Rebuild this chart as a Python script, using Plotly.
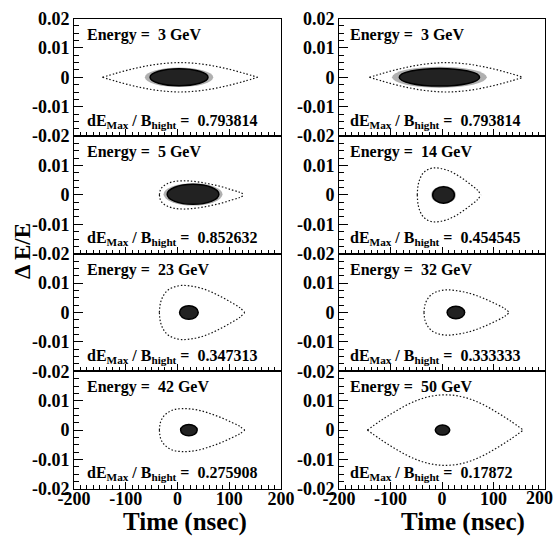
import plotly.graph_objects as go

W, H = 558, 536

# ---------------- data (panel order: L1..L4, R1..R4) ----------------
energies = [3, 5, 23, 42, 3, 14, 32, 50]
ratios = ["0.793814", "0.852632", "0.347313", "0.275908",
          "0.793814", "0.454545", "0.333333", "0.17872"]

# upper half of the separatrix (time in nsec, dE/E); lower half is its mirror
sep_t = [
    [-145, -120, -95, -70, -45, -20, 5, 30, 55, 80, 105, 130, 155],
    [-35, -33, -28, -20, -8, 8, 25, 45, 65, 85, 105, 120, 130],
    [-35, -33, -28, -20, -8, 8, 25, 45, 65, 85, 105, 120, 130],
    [-35, -33, -28, -20, -8, 8, 25, 45, 65, 85, 105, 120, 130],
    [-141, -116, -91, -66, -41, -16, 8, 33, 58, 83, 108, 133, 158],
    [-48, -46.5, -42.8, -36.7, -27.7, -15.6, -2.9, 12.1, 27.1, 42.1, 57.2, 68.4, 76],
    [-35, -33, -28, -20, -8, 8, 25, 45, 65, 85, 106, 121, 131],
    [-145, -120, -94, -69, -44, -19, 6, 32, 57, 82, 107, 133, 158],
]
sep_de = [
    [0, 0.0013, 0.0025, 0.0035, 0.0043, 0.0048, 0.005, 0.0048, 0.0043, 0.0035, 0.0025, 0.0013, 0],
    [0, 0.0017, 0.0029, 0.0038, 0.0045, 0.0048, 0.0047, 0.0043, 0.0036, 0.0028, 0.0017, 0.0009, 0],
    [0, 0.0032, 0.0055, 0.0074, 0.0086, 0.0092, 0.009, 0.0083, 0.007, 0.0053, 0.0033, 0.0017, 0],
    [0, 0.0026, 0.0044, 0.0058, 0.0069, 0.0073, 0.0072, 0.0066, 0.0055, 0.0042, 0.0026, 0.0013, 0],
    [0, 0.0013, 0.0025, 0.0035, 0.0043, 0.0048, 0.005, 0.0048, 0.0043, 0.0035, 0.0025, 0.0013, 0],
    [0, 0.0032, 0.0055, 0.0074, 0.0086, 0.0092, 0.009, 0.0083, 0.007, 0.0053, 0.0033, 0.0017, 0],
    [0, 0.0027, 0.0046, 0.0062, 0.0072, 0.0077, 0.0075, 0.0069, 0.0059, 0.0045, 0.0028, 0.0014, 0],
    [0, 0.0031, 0.006, 0.0085, 0.0104, 0.0116, 0.012, 0.0116, 0.0104, 0.0085, 0.006, 0.0031, 0],
]

# bunch core: centre and half-extent; halo: half-extent of the sparse fringe
bunch_t = [3, 30, 22, 22, -5, 3, 27, 1]
bunch_de = [0.0, 0.0002, 0.0, 0.0, 0.0, 0.0, 0.0, 0.0]
bunch_wt = [56, 50, 18, 16, 78, 21, 17, 14]
bunch_wde = [0.0029, 0.0034, 0.0023, 0.0019, 0.003, 0.0028, 0.0021, 0.0017]
halo_wt = [66, 57, 19, 17, 92, 24, 18, 15]
halo_wde = [0.0033, 0.0038, 0.0024, 0.002, 0.0036, 0.0031, 0.0022, 0.0018]

x_ticks = [-200, -100, 0, 100, 200]
x_tick_text = ["-200", "-100", "0", "100", "200"]
y_ticks = [-0.02, -0.01, 0, 0.01, 0.02]
y_tick_text = ["-0.02", "-0.01", "0", "0.01", "0.02"]

# ---------------- layout geometry (pixels) ----------------
col_px = [(74, 281), (339, 545)]
top_px = 18.5
row_h = 117.6

FONT = "Liberation Serif"
TICKFONT = dict(family=FONT, size=18, color="black", weight="bold")
fig = go.Figure()
shapes = []
annotations = []
layout = dict(width=W, height=H,
              margin=dict(l=0, r=0, t=0, b=0, pad=0, autoexpand=False),
              paper_bgcolor="white", plot_bgcolor="white", showlegend=False)

for p in range(8):
    col = p // 4
    row = p % 4
    n = p + 1
    xa = "xaxis" if n == 1 else f"xaxis{n}"
    ya = "yaxis" if n == 1 else f"yaxis{n}"
    xr = "x" if n == 1 else f"x{n}"
    yr = "y" if n == 1 else f"y{n}"
    x0, x1 = col_px[col]
    ytop = top_px + row * row_h
    ybot = ytop + row_h
    yvals = y_ticks if row == 0 else y_ticks[:4]
    ytext = y_tick_text if row == 0 else y_tick_text[:4]
    xtext = list(x_tick_text)
    if col == 1:
        # last label sits at the page edge: drawn separately, shifted inside
        xtext[-1] = ""
    layout[xa] = dict(
        domain=[x0 / W, x1 / W], anchor=yr, range=[-200, 200], automargin=False,
        showline=True, mirror=True, linecolor="black", linewidth=1,
        ticks="inside", ticklen=7, tickwidth=1, tickcolor="black",
        tickvals=x_ticks, ticktext=xtext, showticklabels=(row == 3),
        ticklabelstandoff=-7, ticklabeloverflow="allow", tickfont=TICKFONT,
        minor=dict(ticks="inside", ticklen=4, dtick=12.5, tick0=-200, tickcolor="black"),
        showgrid=False, zeroline=False, fixedrange=True)
    layout[ya] = dict(
        domain=[1 - ybot / H, 1 - ytop / H], anchor=xr, range=[-0.02, 0.02], automargin=False,
        showline=True, mirror=True, linecolor="black", linewidth=1,
        ticks="inside", ticklen=9, tickwidth=1, tickcolor="black",
        tickvals=yvals, ticktext=ytext, ticklabeloverflow="allow", tickfont=TICKFONT,
        minor=dict(ticks="inside", ticklen=5, dtick=0.0025, tick0=-0.02, tickcolor="black"),
        showgrid=False, zeroline=False, fixedrange=True)

    if col == 1 and row == 3:
        annotations.append(dict(
            xref="paper", yref="paper", x=(W - 3) / W, y=1 - 498 / H,
            xanchor="right", yanchor="middle", showarrow=False,
            text=x_tick_text[-1], font=TICKFONT))

    # bunch (sparse fringe + dense core)
    shapes.append(dict(type="circle", xref=xr, yref=yr, layer="above",
                       x0=bunch_t[p] - halo_wt[p], x1=bunch_t[p] + halo_wt[p],
                       y0=bunch_de[p] - halo_wde[p], y1=bunch_de[p] + halo_wde[p],
                       fillcolor="rgba(30,30,30,0.35)", line=dict(width=0)))
    shapes.append(dict(type="circle", xref=xr, yref=yr, layer="above",
                       x0=bunch_t[p] - bunch_wt[p], x1=bunch_t[p] + bunch_wt[p],
                       y0=bunch_de[p] - bunch_wde[p], y1=bunch_de[p] + bunch_wde[p],
                       fillcolor="#222222", line=dict(width=1.5, color="black")))

    # separatrix, upper and lower halves
    for sign in (1, -1):
        fig.add_trace(go.Scatter(
            x=sep_t[p], y=[sign * v for v in sep_de[p]], xaxis=xr, yaxis=yr,
            mode="lines", line=dict(color="#111111", width=1.2, dash="1.5px,2px", shape="spline"),
            hoverinfo="skip"))

    # text labels inside panel
    annotations.append(dict(
        xref="paper", yref="paper", x=(x0 + (11 if col == 0 else 9)) / W,
        y=1 - (ytop + 16) / H, xanchor="left", yanchor="middle", showarrow=False,
        text=f"Energy =&nbsp; {energies[p]} GeV",
        font=dict(family=FONT, size=16, color="black", weight="bold")))
    annotations.append(dict(
        xref="paper", yref="paper", x=(x0 + (11 if col == 0 else 9)) / W,
        y=1 - (ybot - 15) / H, xanchor="left", yanchor="middle", showarrow=False,
        text=f"dE<sub>Max</sub> / B<sub>hight</sub> =&nbsp; {ratios[p]}",
        font=dict(family=FONT, size=16, color="black", weight="bold")))

# axis titles
for cx in (184.5, 463):
    annotations.append(dict(
        xref="paper", yref="paper", x=cx / W, y=1 - 522 / H,
        xanchor="center", yanchor="middle", showarrow=False, text="Time (nsec)",
        font=dict(family=FONT, size=25, color="black", weight="bold")))
annotations.append(dict(
    xref="paper", yref="paper", x=22 / W, y=1 - 251 / H,
    xanchor="center", yanchor="middle", showarrow=False, text="Δ E/E", textangle=-90,
    font=dict(family=FONT, size=23, color="black", weight="bold")))

layout["shapes"] = shapes
layout["annotations"] = annotations
fig.update_layout(**layout)
fig.write_html("out.html")
